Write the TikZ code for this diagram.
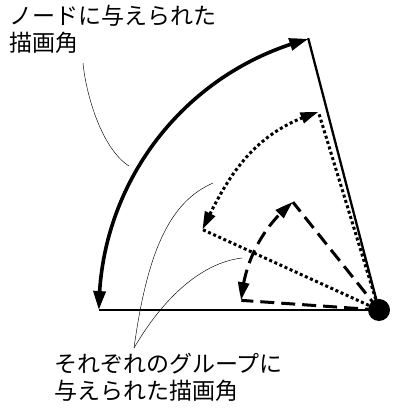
\documentclass[tikz,border=0pt]{standalone}
\usepackage{fontspec}
\newfontfamily\jp{Noto Sans CJK JP}
\usetikzlibrary{arrows.meta,bending,calc}
\begin{document}
\begin{tikzpicture}[x=1pt,y=1pt,
  outerarc/.style={line width=3.6pt,{Triangle[length=19pt,width=12pt,bend]}-{Triangle[length=19pt,width=12pt,bend]}},
  solidline/.style={line width=2.3pt},
  dotline/.style={line width=3pt,dash pattern=on 3pt off 2.6pt},
  dashline/.style={line width=3pt,dash pattern=on 14pt off 7pt},
  dotarc/.style={dotline,{Triangle[length=18pt,width=11pt,bend]}-{Triangle[length=18pt,width=11pt,bend]}},
  dasharc/.style={dashline,{Triangle[length=18pt,width=11pt,bend]}-{Triangle[length=18pt,width=11pt,bend]}},
  note/.style={line width=0.45pt},
  lab/.style={font=\jp\fontsize{23pt}{27pt}\selectfont,align=left,inner sep=0pt}]
\useasboundingbox (0,0) rectangle (394,411);
\coordinate (C) at (379,101);
\coordinate (o1) at ($(C)+(104.6:281)$);
\coordinate (o2) at ($(C)+(180:280)$);
\coordinate (d1) at ($(C)+(107:207)$);
\coordinate (d2) at ($(C)+(155.5:194)$);
\coordinate (e1) at ($(C)+(128.6:138)$);
\coordinate (e2) at ($(C)+(176:138)$);
% outer fan
\draw[solidline] (C) -- (o1);
\draw[solidline] (C) -- (o2);
\draw[outerarc] (o2) arc[start angle=180,end angle=104.6,radius=280];
% dotted fan
\draw[dotline] (C) -- (d1);
\draw[dotline] (C) -- (d2);
\draw[dotarc] (d2) to[out=65,in=197,looseness=1] (d1);
% dashed fan
\draw[dashline] (C) -- (e1);
\draw[dashline] (C) -- (e2);
\draw[dasharc] (e2) arc[start angle=176,end angle=128.6,radius=138];
% node
\node[circle,fill=black,minimum size=22pt,inner sep=0pt] (N) at (C) {};
% labels
\node[lab,anchor=north west] (L1) at (9,406) {ノードに与えられた\\描画角};
\node[lab,anchor=north west] (L2) at (54,58) {それぞれのグループに\\与えられた描画角};
\coordinate (a1) at (83,348);
\coordinate (a2) at (129,245);
\coordinate (b0) at (134,63);
\coordinate (b1) at (213,228);
\coordinate (b2) at (242,153);
\draw[note] (a1) .. controls (86,316) and (102,262) .. (a2);
\draw[note] (b0) .. controls (148,165) and (172,210) .. (b1);
\draw[note] (b0) .. controls (162,111) and (200,148) .. (b2);
\end{tikzpicture}
\end{document}
